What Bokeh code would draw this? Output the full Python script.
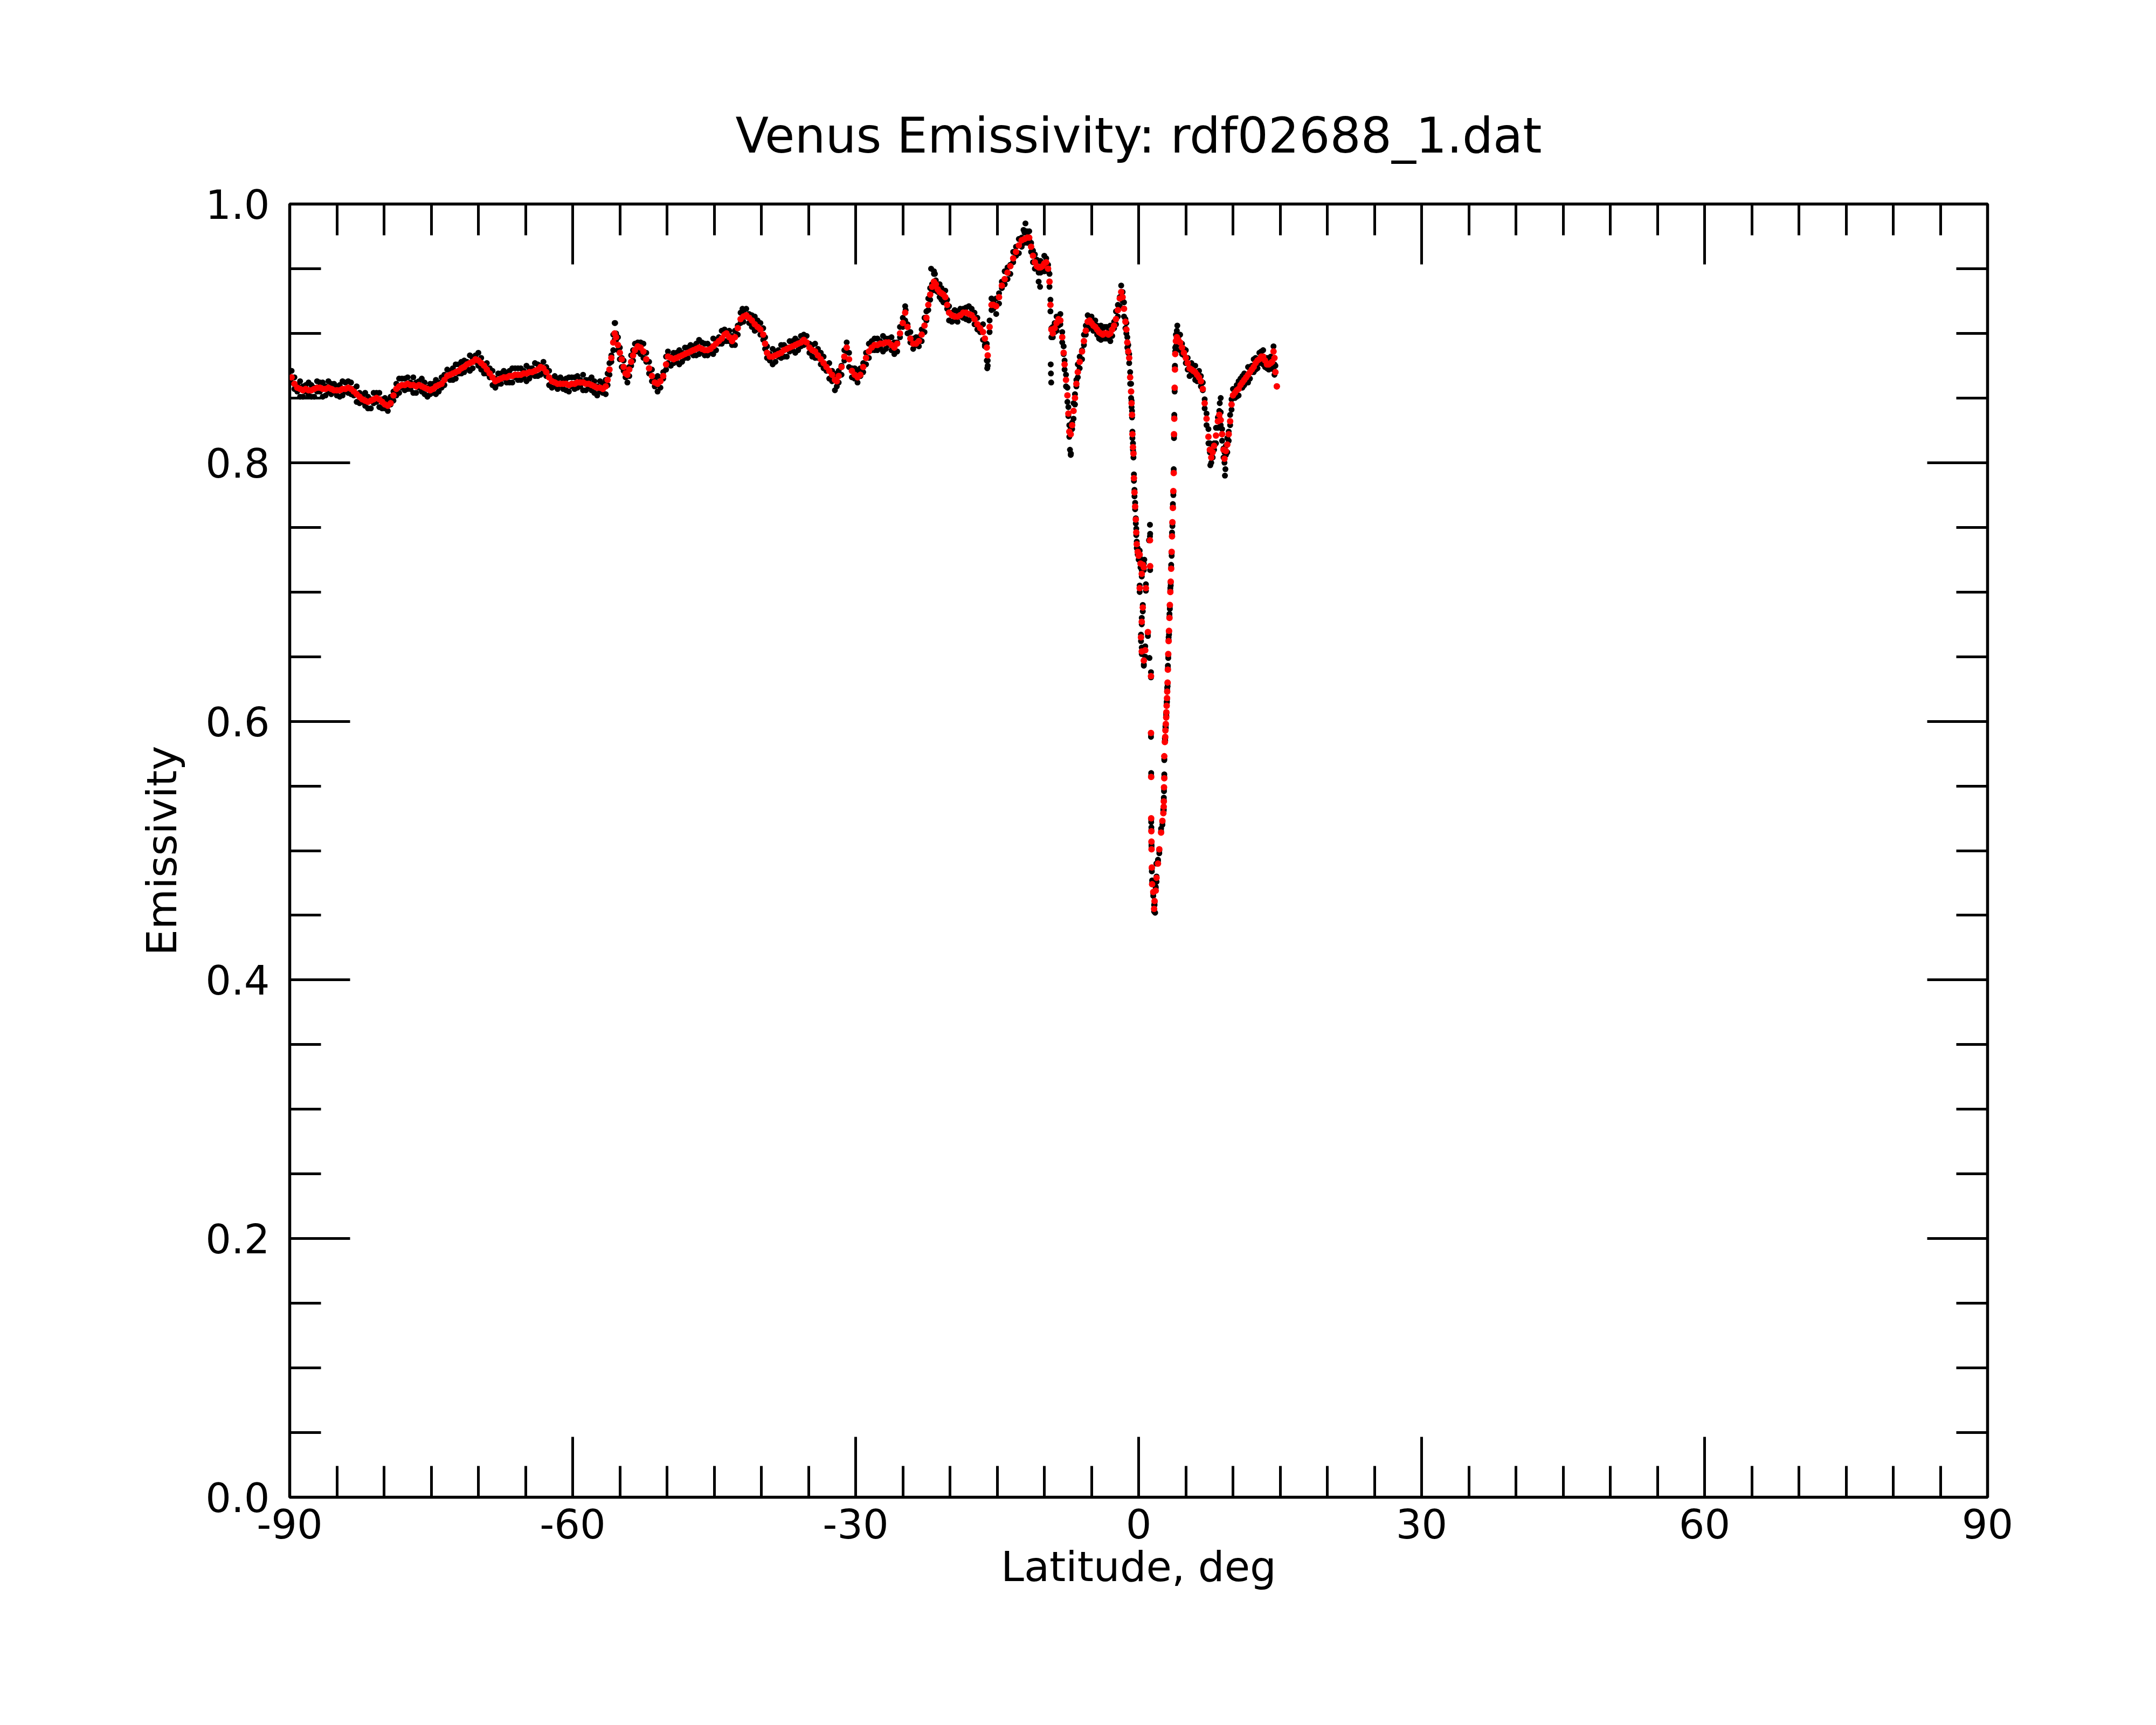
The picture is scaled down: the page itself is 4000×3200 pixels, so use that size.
from bokeh.plotting import figure
from bokeh.models import LinearAxis, FixedTicker, PrintfTickFormatter, ColumnDataSource, Range1d
from bokeh.embed import file_html
from bokeh.resources import INLINE

# ---------------- data (latitude in deg, emissivity) ----------------
# red = smoothed emissivity, black / black2 = raw samples at the same latitudes
lat_A = [-89.8,-89.5,-89.2,-88.9,-88.6,-88.3,-88.0,-87.7,-87.4,-87.1,
         -86.8,-86.5,-86.2,-85.9,-85.6,-85.3,-85.0,-84.7,-84.4,-84.1,
         -83.8,-83.5,-83.2,-82.9,-82.6,-82.3,-82.0,-81.7,-81.4,-81.1,
         -80.8,-80.5,-80.2,-79.9,-79.6,-79.3,-79.0,-78.7,-78.4,-78.1,
         -77.8,-77.5,-77.2,-76.9,-76.6,-76.3,-76.0,-75.7,-75.4,-75.1,
         -74.8,-74.5,-74.2,-73.9,-73.6,-73.3,-73.0,-72.7,-72.4,-72.1,
         -71.8,-71.5,-71.2,-70.9,-70.6,-70.3,-70.0,-69.7,-69.4,-69.1,
         -68.8,-68.5,-68.2,-67.9,-67.6,-67.3,-67.0,-66.7,-66.4,-66.1,
         -65.8,-65.5,-65.2,-64.9,-64.6,-64.3,-64.0,-63.7,-63.4,-63.1,
         -62.8,-62.5,-62.2,-61.9,-61.6,-61.3,-61.0,-60.7,-60.4,-60.1,
         -59.8,-59.5,-59.2,-58.9,-58.6,-58.3,-58.0,-57.7,-57.4,-57.1,
         -56.8,-56.5]
red_A = [.866,.861,.858,.857,.856,.857,.856,.856,.857,.858,
         .858,.857,.857,.858,.857,.856,.856,.856,.857,.857,
         .858,.857,.855,.853,.851,.849,.848,.847,.848,.849,
         .850,.849,.847,.845,.844,.846,.852,.857,.859,.860,
         .860,.861,.860,.860,.859,.860,.859,.858,.857,.856,
         .857,.859,.860,.861,.864,.867,.868,.869,.870,.871,
         .873,.874,.876,.877,.878,.880,.879,.877,.875,.872,
         .869,.866,.863,.864,.865,.866,.866,.867,.867,.868,
         .868,.868,.869,.869,.870,.870,.871,.872,.874,.873,
         .870,.866,.863,.862,.861,.861,.861,.861,.860,.861,
         .861,.862,.862,.862,.861,.861,.860,.859,.858,.858,
         .857,.859]
black_A = [.871,.857,.860,.851,.859,.855,.862,.851,.858,.855,
           .862,.851,.859,.863,.853,.855,.859,.851,.863,.855,
           .863,.853,.857,.847,.854,.847,.854,.842,.849,.846,
           .854,.843,.849,.850,.840,.845,.855,.852,.865,.858,
           .865,.857,.862,.854,.862,.858,.865,.853,.858,.853,
           .861,.853,.862,.866,.860,.866,.871,.864,.876,.869,
           .878,.870,.878,.871,.881,.878,.885,.872,.876,.869,
           .873,.860,.865,.869,.861,.865,.869,.862,.873,.866,
           .873,.864,.871,.863,.873,.868,.877,.867,.875,.870,
           .874,.860,.865,.867,.857,.860,.864,.856,.866,.859,
           .866,.858,.864,.856,.864,.859,.866,.854,.859,.855,
           .861,.853]
black2_A = [.862,.866,.855,.863,.851,.860,.852,.860,.851,.863,
            .855,.862,.852,.855,.861,.861,.852,.860,.852,.862,
            .854,.862,.852,.859,.846,.852,.844,.851,.842,.854,
            .847,.854,.842,.842,.848,.851,.848,.861,.854,.865,
            .856,.866,.857,.866,.854,.863,.855,.862,.851,.861,
            .854,.864,.855,.858,.868,.872,.864,.873,.865,.876,
            .869,.879,.873,.883,.873,.883,.875,.881,.869,.877,
            .866,.871,.858,.861,.869,.871,.862,.871,.862,.873,
            .864,.873,.866,.875,.865,.873,.867,.876,.868,.878,
            .867,.871,.858,.859,.865,.866,.857,.865,.855,.866,
            .857,.867,.859,.868,.856,.864,.856,.863,.852,.863,
            .854,.864]

lat_B = [-56.3,-56.1,-55.9,-55.7,-55.55,-55.4,-55.2,-55.0,-54.8,-54.6,
         -54.4,-54.2,-54.0,-53.8,-53.6,-53.4,-53.1,-52.8,-52.5,-52.2,
         -51.9,-51.6,-51.3,-51.0,-50.7,-50.4,-50.1,-49.9,-49.6,-49.3,
         -49.0,-48.7,-48.4,-48.1,-47.8,-47.5,-47.2,-46.9,-46.6,-46.3,
         -46.0,-45.7,-45.4,-45.1,-44.8,-44.5,-44.2,-43.9,-43.7,-43.4,
         -43.1,-42.8,-42.5,-42.2,-41.9,-41.6,-41.3,-41.0,-40.7,-40.4,
         -40.1,-39.8]
red_B = [.864,.872,.881,.893,.900,.897,.891,.885,.880,.874,
         .869,.868,.872,.878,.883,.887,.890,.889,.886,.880,
         .873,.867,.862,.861,.863,.867,.876,.882,.881,.880,
         .881,.882,.883,.884,.885,.886,.887,.888,.889,.888,
         .887,.887,.888,.890,.892,.894,.896,.899,.900,.897,
         .894,.897,.904,.911,.913,.914,.912,.910,.907,.905,
         .903,.899]
black_B = [.869,.868,.883,.887,.908,.895,.897,.880,.881,.871,
           .873,.862,.874,.883,.879,.886,.893,.884,.892,.878,
           .878,.863,.864,.855,.866,.865,.882,.877,.882,.877,
           .885,.876,.885,.889,.881,.885,.890,.883,.895,.886,
           .892,.883,.890,.884,.895,.892,.902,.894,.901,.894,
           .898,.891,.906,.916,.909,.913,.915,.905,.913,.903,
           .908,.895]
black2_B = [.860,.877,.878,.899,.895,.900,.887,.889,.874,.879,
            .866,.873,.867,.875,.887,.892,.886,.893,.881,.885,
            .869,.872,.859,.867,.858,.870,.872,.886,.875,.885,
            .878,.887,.878,.881,.889,.891,.883,.892,.884,.893,
            .883,.892,.885,.896,.887,.897,.892,.903,.894,.902,
            .891,.902,.899,.908,.917,.919,.908,.914,.902,.910,
            .899,.904]

lat_C = [-39.6,-39.4,-39.1,-38.8,-38.5,-38.2,-37.9,-37.6,-37.3,-37.0,
         -36.7,-36.4,-36.1,-35.8,-35.5,-35.2,-34.9,-34.6,-34.3,-34.0,
         -33.7,-33.4,-33.1,-32.8,-32.5,-32.2,-32.0,-31.8,-31.5,-31.2,
         -30.95,-30.7,-30.4,-30.1,-29.8,-29.5,-29.2,-28.9,-28.6,-28.3,
         -28.0,-27.7,-27.4,-27.1,-26.8,-26.5,-26.2,-25.9,-25.6,-25.3,
         -25.0,-24.75,-24.5,-24.2,-23.9,-23.6,-23.3,-23.0,-22.7,-22.5,
         -22.3,-22.1,-21.9,-21.7,-21.5,-21.3,-21.1,-20.9,-20.7,-20.5,
         -20.3,-20.1,-19.8,-19.5,-19.2,-18.9,-18.6,-18.3,-18.0,-17.7,
         -17.4,-17.1,-16.8,-16.5,-16.3,-16.1,-16.0]
red_C = [.892,.885,.882,.882,.883,.884,.885,.887,.888,.889,
         .890,.891,.892,.893,.895,.893,.889,.887,.886,.883,
         .880,.877,.874,.871,.868,.864,.863,.867,.874,.882,
         .889,.880,.871,.868,.866,.868,.874,.881,.886,.889,
         .891,.891,.892,.892,.893,.893,.891,.889,.892,.900,
         .908,.916,.905,.896,.892,.892,.894,.899,.906,.912,
         .922,.930,.936,.940,.938,.934,.932,.931,.930,.928,
         .922,.916,.914,.913,.913,.914,.916,.916,.915,.914,
         .911,.907,.904,.901,.896,.889,.883]
black_C = [.897,.881,.884,.876,.886,.882,.891,.882,.889,.886,
           .894,.885,.894,.898,.891,.892,.892,.882,.892,.881,
           .885,.873,.876,.865,.871,.856,.869,.862,.875,.879,
           .893,.874,.873,.873,.862,.867,.877,.876,.892,.887,
           .896,.887,.894,.886,.896,.891,.897,.884,.893,.897,
           .912,.910,.907,.901,.888,.891,.897,.894,.912,.910,
           .927,.926,.938,.948,.941,.932,.938,.926,.931,.925,
           .926,.910,.916,.918,.909,.913,.919,.911,.921,.912,
           .916,.903,.906,.895,.890,.879,.875]
black2_C = [.888,.890,.879,.888,.878,.887,.881,.891,.882,.894,
            .887,.896,.887,.890,.899,.898,.885,.891,.881,.888,
            .876,.882,.871,.877,.863,.867,.859,.871,.868,.887,
            .886,.885,.866,.865,.870,.873,.870,.885,.881,.894,
            .887,.896,.889,.898,.888,.896,.887,.893,.886,.905,
            .905,.921,.900,.893,.896,.897,.890,.903,.901,.917,
            .918,.935,.933,.946,.933,.937,.928,.935,.924,.933,
            .919,.921,.909,.910,.917,.919,.912,.920,.910,.919,
            .907,.912,.901,.907,.891,.892,.879]

lat_D = [-15.8,-15.6,-15.4,-15.1,-14.8,-14.5,-14.2,-13.9,-13.6,-13.3,
         -13.0,-12.7,-12.4,-12.1,-11.8,-11.6,-11.4,-11.2,-11.0,-10.8,
         -10.6,-10.4,-10.2,-10.0,-9.8,-9.6,-9.45,-9.35,-9.25,-9.1,
         -8.9,-8.7,-8.5,-8.3,-8.1,-7.95,-7.85,-7.7,-7.55,-7.45,
         -7.35,-7.2,-7.05,-6.9,-6.75,-6.6,-6.45,-6.25,-6.0,-5.8,
         -5.6,-5.4,-5.2,-5.0,-4.8,-4.6,-4.4,-4.2,-4.0,-3.8,
         -3.6,-3.4,-3.2,-3.0,-2.8,-2.6,-2.4,-2.2,-2.0,-1.85,
         -1.7,-1.55,-1.4,-1.3,-1.2,-1.1,-1.0,-0.9,-0.8]
red_D = [.905,.922,.922,.921,.928,.937,.942,.947,.952,.958,
         .963,.968,.972,.973,.974,.974,.967,.960,.955,.952,
         .951,.951,.952,.954,.955,.950,.940,.922,.903,.900,
         .904,.908,.911,.910,.897,.885,.876,.864,.852,.838,
         .824,.822,.829,.840,.850,.861,.870,.878,.886,.894,
         .902,.909,.910,.908,.906,.905,.903,.901,.900,.899,
         .900,.900,.899,.900,.903,.906,.911,.918,.927,.932,
         .928,.919,.909,.903,.893,.886,.881,.866,.855]
black_D = [.910,.918,.924,.915,.931,.935,.948,.942,.953,.955,
           .967,.962,.974,.978,.970,.973,.970,.955,.961,.950,
           .956,.947,.954,.948,.958,.948,.946,.917,.904,.897,
           .908,.902,.913,.915,.893,.884,.879,.859,.858,.836,
           .829,.806,.831,.834,.853,.859,.876,.873,.887,.891,
           .906,.903,.912,.913,.902,.904,.906,.896,.906,.897,
           .905,.896,.901,.894,.906,.904,.917,.913,.928,.929,
           .932,.913,.911,.908,.889,.885,.884,.861,.861]
black2_D = [.901,.927,.919,.927,.923,.940,.938,.951,.946,.963,
            .960,.973,.967,.970,.978,.979,.963,.964,.950,.957,
            .947,.956,.949,.960,.950,.953,.936,.926,.897,.905,
            .901,.913,.906,.907,.901,.890,.872,.868,.847,.843,
            .820,.827,.826,.846,.845,.864,.866,.882,.880,.899,
            .899,.914,.905,.905,.910,.910,.899,.905,.895,.904,
            .896,.905,.896,.906,.898,.909,.907,.922,.921,.937,
            .925,.924,.904,.900,.897,.891,.877,.870,.850]

lat_E = [-0.75,-0.7,-0.66,-0.6,-0.55,-0.5,-0.44,-0.37,-0.3,-0.25,
         -0.2,-0.1,0.0,0.11,0.2,0.33,0.45,0.55,0.11,0.77,
         0.44,0.33,0.25,0.33,0.55,0.7,0.98,1.2,1.22,1.31,
         1.31,1.33,1.33,1.35,1.36,1.37,1.40,1.43,1.55,1.64,
         1.69,1.81,1.90,2.05,2.19,2.38,2.52,2.62,2.66,2.67,
         2.69,2.72,2.72,2.78,2.82,2.84,2.88,2.92,2.94,2.97,
         3.01,3.03,3.07,3.10,3.14,3.18,3.22,3.27,3.31,3.36,
         3.40,3.45,3.50,3.54,3.58,3.63,3.68,3.72,3.75,3.78,
         3.82,3.85,3.88]
red_E = [.846,.837,.822,.812,.807,.788,.777,.766,.756,.746,
         .737,.731,.728,.729,.722,.714,.721,.719,.703,.703,
         .688,.677,.665,.654,.647,.655,.669,.740,.720,.635,
         .591,.557,.525,.515,.507,.501,.487,.474,.468,.455,
         .461,.469,.479,.490,.501,.514,.523,.529,.534,.538,
         .549,.556,.573,.584,.588,.593,.598,.603,.607,.612,
         .618,.623,.630,.640,.652,.662,.670,.680,.690,.700,
         .708,.718,.731,.743,.754,.765,.778,.792,.822,.834,
         .858,.872,.884]
black_E = [.848,.835,.824,.810,.808,.786,.779,.764,.757,.744,
           .739,.729,.730,.727,.724,.712,.724,.717,.705,.701,
           .690,.675,.667,.652,.643,.650,.668,.752,.745,.634,
           .590,.558,.524,.516,.506,.502,.486,.475,.467,.453,
           .460,.471,.480,.492,.500,.515,.522,.531,.532,.539,
           .548,.557,.571,.585,.587,.594,.597,.604,.606,.613,
           .617,.624,.629,.641,.651,.663,.669,.681,.689,.701,
           .707,.719,.730,.744,.753,.766,.777,.793,.821,.835,
           .857,.874,.886]
black2_E = [.843,.840,.819,.815,.804,.791,.774,.769,.753,.749,
            .734,.734,.725,.732,.719,.717,.718,.722,.700,.706,
            .685,.680,.662,.657,.644,.658,.666,.743,.717,.638,
            .588,.560,.522,.518,.504,.504,.484,.477,.465,.458,
            .458,.472,.476,.493,.498,.517,.520,.532,.531,.541,
            .546,.559,.570,.587,.585,.596,.595,.606,.604,.615,
            .615,.626,.627,.643,.649,.665,.667,.683,.687,.703,
            .705,.721,.728,.746,.751,.768,.775,.795,.819,.837,
            .855,.875,.889]

lat_F = [3.95,4.05,4.2,4.4,4.6,4.8,5.0,5.2,5.4,5.6,
         5.8,6.0,6.2,6.4,6.6,6.8,7.0,7.2,7.4,7.55,
         7.7,7.85,8.0,8.2,8.4,8.55,8.7,8.85,9.0,9.1,
         9.25,9.4,9.55,9.7,9.85,10.0,10.2,10.4,10.6,10.8,
         11.0,11.2,11.4,11.6,11.8,12.0,12.2,12.4,12.6,12.8,
         13.0,13.2,13.4,13.6,13.8,14.0,14.15,14.3,14.4,14.5,
         14.65]
red_F = [.894,.897,.895,.893,.889,.885,.881,.877,.873,.872,
         .871,.870,.868,.866,.863,.857,.846,.834,.820,.810,
         .804,.808,.813,.821,.832,.837,.833,.822,.810,.803,
         .809,.814,.822,.832,.845,.852,.854,.856,.857,.860,
         .862,.864,.866,.868,.870,.872,.874,.877,.879,.880,
         .882,.882,.879,.876,.876,.877,.878,.886,.881,.870,
         .859]
black_F = [.899,.893,.897,.887,.892,.883,.887,.872,.874,.869,
           .875,.864,.870,.871,.859,.856,.849,.829,.826,.808,
           .809,.804,.815,.815,.835,.835,.839,.817,.811,.800,
           .813,.808,.824,.837,.841,.851,.857,.851,.863,.858,
           .867,.860,.868,.862,.873,.870,.880,.872,.880,.877,
           .886,.876,.881,.881,.872,.876,.881,.872,.868,.870,
           .859]
black2_F = [.890,.902,.892,.899,.884,.888,.877,.881,.867,.877,
            .868,.875,.863,.863,.867,.862,.842,.838,.815,.815,
            .800,.813,.810,.827,.827,.840,.829,.826,.804,.808,
            .806,.819,.817,.829,.849,.857,.850,.860,.852,.865,
            .858,.869,.863,.874,.865,.875,.870,.881,.873,.885,
            .879,.887,.874,.873,.880,.882,.874,.890,.876,.875,
            .859]

# raw-data outliers seen only in the black series
extra_lat = [-55.5,-42.0,-24.7,-22.0,-21.6,-16.05,-12.2,-12.0,-11.85,-10.6,
             -10.45,-9.32,-9.3,-9.27,-7.28,-7.18,0.3,0.6,1.1,1.15,
             1.75,1.88,4.1,7.6,8.6,8.7,9.15,9.2]
extra_emi = [.908,.919,.918,.950,.946,.873,.980,.985,.979,.940,
             .936,.876,.869,.862,.810,.807,.720,.725,.740,.649,
             .452,.490,.906,.798,.846,.850,.790,.795]

# axis ticks
x_major = [-90, -60, -30, 0, 30, 60, 90]
x_minor = [-90, -85, -80, -75, -70, -65, -60, -55, -50, -45, -40, -35, -30, -25, -20, -15, -10, -5,
           0, 5, 10, 15, 20, 25, 30, 35, 40, 45, 50, 55, 60, 65, 70, 75, 80, 85, 90]
y_major = [0.0, 0.2, 0.4, 0.6, 0.8, 1.0]
y_minor = [0.0, 0.05, 0.1, 0.15, 0.2, 0.25, 0.3, 0.35, 0.4, 0.45, 0.5,
           0.55, 0.6, 0.65, 0.7, 0.75, 0.8, 0.85, 0.9, 0.95, 1.0]

lat_all = lat_A + lat_B + lat_C + lat_D + lat_E + lat_F
red_all = red_A + red_B + red_C + red_D + red_E + red_F
black_all = black_A + black_B + black_C + black_D + black_E + black_F
black2_all = black2_A + black2_B + black2_C + black2_D + black2_E + black2_F
assert len(lat_all) == len(red_all) == len(black_all) == len(black2_all), \
    (len(lat_all), len(red_all), len(black_all), len(black2_all))
assert len(extra_lat) == len(extra_emi)

src_black = ColumnDataSource(dict(lat=lat_all + lat_all + extra_lat,
                                  emis=black_all + black2_all + extra_emi))
src_red = ColumnDataSource(dict(lat=lat_all, emis=red_all))

FONT = "DejaVu Sans"

p = figure(width=3984, height=3184, x_range=Range1d(-90, 90), y_range=Range1d(0, 1),
           output_backend="svg", toolbar_location=None,
           min_border_left=537, min_border_right=297, min_border_top=378, min_border_bottom=407,
           x_axis_label="Latitude, deg", y_axis_label="Emissivity")
p.grid.visible = False
p.background_fill_color = "white"
p.border_fill_color = "white"
p.outline_line_color = "black"
p.outline_line_width = 5.5

p.title.text = "Venus Emissivity: rdf02688_1.dat"
p.title.align = "center"
p.title.text_font = FONT
p.title.text_font_size = "90px"
p.title.text_font_style = "normal"
p.title.text_color = "black"
p.title.standoff = 150

# mirrored tick axes on the top and right (ticks only, labels hidden)
top = LinearAxis()
right = LinearAxis()
p.add_layout(top, "above")
p.add_layout(right, "right")

def style(ax, major, minor, fmt, show_labels):
    ax.ticker = FixedTicker(ticks=major, minor_ticks=minor)
    ax.formatter = PrintfTickFormatter(format=fmt)
    ax.axis_line_color = None
    ax.major_tick_in = 112
    ax.major_tick_out = 0
    ax.minor_tick_in = 58
    ax.minor_tick_out = 0
    ax.major_tick_line_width = 5
    ax.minor_tick_line_width = 5
    ax.major_tick_line_color = "black"
    ax.minor_tick_line_color = "black"
    ax.major_label_text_font = FONT
    ax.major_label_text_color = "black"
    ax.axis_label_text_font = FONT
    ax.axis_label_text_font_size = "77px"
    ax.axis_label_text_font_style = "normal"
    ax.axis_label_text_color = "black"
    if show_labels:
        ax.major_label_text_font_size = "75px"
    else:
        ax.major_label_text_font_size = "0px"
        ax.major_label_standoff = 0

xb = p.below[0]
yl = p.left[0]
style(xb, x_major, x_minor, "%d", True)
style(top, x_major, x_minor, "%d", False)
style(yl, y_major, y_minor, "%.1f", True)
style(right, y_major, y_minor, "%.1f", False)
xb.major_label_standoff = 21
xb.axis_label_standoff = 5
yl.major_label_standoff = 37
yl.axis_label_standoff = 33

p.scatter("lat", "emis", source=src_black, marker="circle", size=11,
          fill_color="black", line_color=None)
p.scatter("lat", "emis", source=src_red, marker="circle", size=12,
          fill_color="red", line_color=None)

open("out.html", "w").write(file_html(p, INLINE))
